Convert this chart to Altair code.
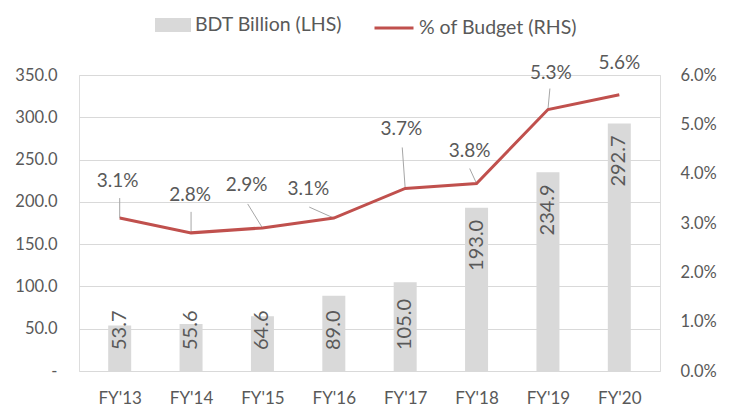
import json
import altair as alt
import pandas as pd

# ---- data ----
categories = ["FY'13", "FY'14", "FY'15", "FY'16", "FY'17", "FY'18", "FY'19", "FY'20"]
bdt_billion = [53.7, 55.6, 64.6, 89.0, 105.0, 193.0, 234.9, 292.7]
pct_budget = [3.1, 2.8, 2.9, 3.1, 3.7, 3.8, 5.3, 5.6]

# ---- annotation placement (pixel offsets from each line point) ----
label_dx = [-2, -1, -16, -26, -4, -7, 3, 0]
label_dy = [-37, -38, -43, -29, -59, -33, -37, -32]
leader_dx = [0, 0, -15, -25, -3, -7, 2, None]
leader_dy = [-20, -21, -24, -11, -41, -15, -21, None]

W, H = 581, 296
Y1MAX, Y2MAX = 350, 0.06
XPX = W / len(categories)
BDT_PER_PX = Y1MAX / H
PCT_PER_PX = Y2MAX / H

GRID = "#d9d9d9"
TXT = "#595959"
BAR = "#d9d9d9"
RED = "#c0504d"
FONT = "Lato"

rows = []
for i, c in enumerate(categories):
    p = pct_budget[i] / 100
    r = dict(cat=c, idx=i, bdt=bdt_billion[i], pct=p,
             s1="BDT Billion (LHS)", s2="% of Budget (RHS)",
             lx=i + label_dx[i] / XPX, ly=p - label_dy[i] * PCT_PER_PX)
    if leader_dx[i] is not None:
        r["ex"] = i + leader_dx[i] / XPX
        r["ey"] = p - leader_dy[i] * PCT_PER_PX
        r["lead"] = 1
    else:
        r["ex"] = None
        r["ey"] = None
        r["lead"] = 0
    rows.append(r)
df = pd.DataFrame(rows)

xscale = alt.Scale(domain=[-0.5, len(categories) - 0.5], nice=False, zero=False)
xaxis = alt.Axis(values=list(range(len(categories))), labelExpr=json.dumps(categories) + "[datum.value]",
                 ticks=False, domain=False, grid=False, labelPadding=19, labelFontSize=17,
                 labelColor=TXT, labelFont=FONT, title=None)

def X(field):
    return alt.X(field, type="quantitative", scale=xscale, axis=xaxis)

y1scale = alt.Scale(domain=[0, Y1MAX], nice=False)
y1axis = alt.Axis(values=list(range(0, 351, 50)),
                  labelExpr="datum.value == 0 ? '-\u00a0\u00a0\u00a0' : format(datum.value, '.1f')",
                  ticks=False, domain=False, grid=True, gridColor=GRID, gridWidth=1,
                  labelPadding=22, labelFontSize=16.5, labelColor=TXT, labelFont=FONT, title=None)

def Y1(field):
    return alt.Y(field, type="quantitative", scale=y1scale, axis=y1axis)

y2scale = alt.Scale(domain=[0, Y2MAX], nice=False)
y2axis = alt.Axis(orient="right", values=[0, 0.01, 0.02, 0.03, 0.04, 0.05, 0.06], format=".1%",
                  ticks=False, domain=False, grid=False, labelPadding=20, labelFontSize=16.5,
                  labelColor=TXT, labelFont=FONT, title=None)

def Y2(field):
    return alt.Y(field, type="quantitative", scale=y2scale, axis=y2axis)

base = alt.Chart(df)

bars = base.mark_bar(size=23).encode(
    x=X("idx"), y=Y1("bdt"),
    fill=alt.Fill("s1:N", scale=alt.Scale(domain=["BDT Billion (LHS)"], range=[BAR]),
                  legend=alt.Legend(orient="none", legendX=76, legendY=-68, direction="horizontal",
                                    title=None, symbolType="M-1,-0.39H1V0.39H-1Z", symbolSize=1296,
                                    symbolStrokeWidth=0, labelFontSize=19.5, labelColor=TXT,
                                    labelFont=FONT, labelOffset=4, padding=0)),
)

bar_small = base.transform_filter("datum.bdt < 150").transform_calculate(
    ypos=f"{20 * BDT_PER_PX}").mark_text(
    angle=270, align="left", baseline="middle", fontSize=20, color=TXT, font=FONT, dx=1).encode(
    x=X("idx"), y=Y1("ypos"), text=alt.Text("bdt:Q", format=".1f"))

bar_large = base.transform_filter("datum.bdt >= 150").transform_calculate(
    ypos=f"datum.bdt - {13 * BDT_PER_PX}").mark_text(
    angle=270, align="right", baseline="middle", fontSize=20, color=TXT, font=FONT, dx=1).encode(
    x=X("idx"), y=Y1("ypos"), text=alt.Text("bdt:Q", format=".1f"))

left = alt.layer(bars, bar_small, bar_large)

leaders = base.transform_filter("datum.lead == 1").mark_rule(color="#a6a6a6", strokeWidth=1).encode(
    x=X("idx"), y=Y2("pct"), x2="ex:Q", y2="ey:Q")

line = base.mark_line(strokeWidth=3).encode(
    x=X("idx"), y=Y2("pct"),
    stroke=alt.Stroke("s2:N", scale=alt.Scale(domain=["% of Budget (RHS)"], range=[RED]),
                      legend=alt.Legend(orient="none", legendX=294, legendY=-68, direction="horizontal",
                                        title=None, symbolType="stroke", symbolSize=1521,
                                        symbolStrokeWidth=3, labelFontSize=19.5, labelColor=TXT,
                                        labelFont=FONT, labelOffset=4, padding=0)),
)

labels = base.mark_text(fontSize=19, color=TXT, font=FONT, align="center", baseline="middle").encode(
    x=X("lx"), y=Y2("ly"), text=alt.Text("pct:Q", format=".1%"))

right = alt.layer(leaders, line, labels)

chart = alt.layer(left, right).resolve_scale(y="independent").properties(
    width=W, height=H,
    autosize=alt.AutoSizeParams(type="none"),
    padding={"left": 71, "top": 67, "right": 67, "bottom": 38},
).configure_view(stroke=None).configure(background="white")

chart.save("out.html", embed_options={"renderer": "svg", "actions": False})
